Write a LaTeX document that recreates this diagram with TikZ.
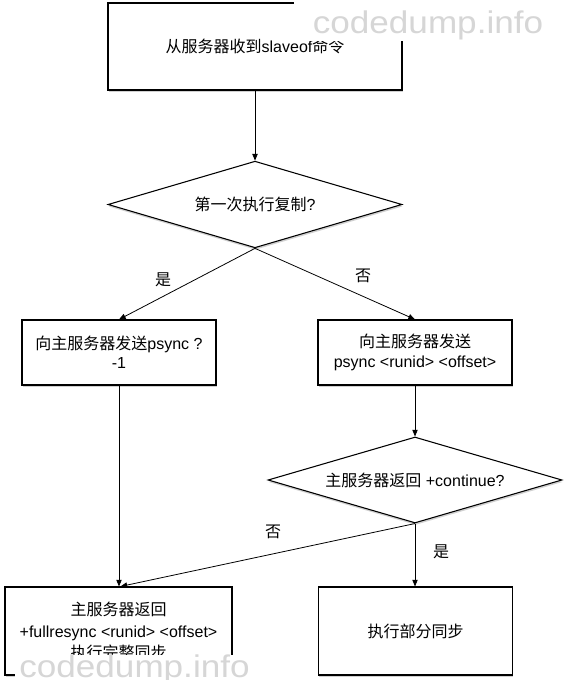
\documentclass[tikz,border=0pt]{standalone}
\usepackage{fontspec}
\usepackage{graphicx}
\setmainfont{Liberation Sans}
\newfontfamily\cjk{Noto Sans CJK SC}
\usetikzlibrary{shapes.geometric,arrows.meta,shadows}
\newcommand\zh[1]{{\cjk #1}}
\begin{document}
\begin{tikzpicture}[x=0.75pt,y=-0.75pt,
  every node/.style={font=\fontsize{12}{14.5}\selectfont},
  shade/.style={drop shadow={shadow xshift=0.4pt,shadow yshift=-1.5pt,opacity=0.3,fill=black!60}},
  boxnode/.style={draw,line width=0.8pt,fill=white,rectangle,inner sep=2pt,align=center,shade},
  decnode/.style={draw,line width=0.8pt,fill=white,diamond,aspect=4,inner sep=0pt,align=center,
                  minimum width=220.5pt,minimum height=65pt,shade},
  conn/.style={draw,line width=0.6pt,-{Triangle[length=5pt,width=4pt]}},
  lbl/.style={font=\cjk\fontsize{12}{14}\selectfont},
  wmark/.style={text=black!16,inner sep=0pt}]
\useasboundingbox (0,0) rectangle (566,680);
\fill[white] (0,0) rectangle (566,680);

\node[boxnode,minimum width=220.5pt,minimum height=65.25pt] (start) at (255,46.5)
  {\raisebox{-3.5pt}{\zh{从服务器收到}slaveof\zh{命令}}};
\node[decnode] (first) at (255,204.5) {\zh{第一次执行复制}?};
\node[boxnode,minimum width=145.5pt,minimum height=48.75pt] (full) at (119,352.5)
  {\zh{向主服务器发送}psync ?\\-1};
\node[boxnode,minimum width=145.5pt,minimum height=48.75pt] (part) at (415,352.5)
  {\zh{向主服务器发送}\\psync <runid> <offset>};
\node[decnode,minimum height=64.5pt] (cont) at (415,480) {\zh{主服务器返回} +continue?};
\node[boxnode,minimum width=170.25pt,minimum height=66pt,font=\fontsize{12}{16}\selectfont] (fullsync) at (118.5,631)
  {\zh{主服务器返回}\\+fullresync <runid> <offset>\\\zh{执行完整同步}};
\node[boxnode,minimum width=145.5pt,minimum height=66pt] (partsync) at (415.5,631)
  {\zh{执行部分同步}};

\draw[conn] (start.south) -- (first.north);
\draw[conn] (first.south) -- (full.north);
\draw[conn] (first.south) -- (part.north);
\draw[conn] (part.south) -- (cont.north);
\draw[conn] (full.south) -- (full.south |- fullsync.north);
\draw[conn] (cont.south) -- ([xshift=1.5pt]fullsync.north);
\draw[conn] (cont.south) -- (cont.south |- partsync.north);

\node[lbl] (yes1) at (163,280) {是};
\node[lbl] (no1) at (363,276) {否};
\node[lbl] (no2) at (273,532) {否};
\node[lbl] (yes2) at (441,552) {是};

\fill[white] (294,0) rectangle (552,41);
\node[wmark] (wm1) at (428,25) {\scalebox{1.12}[1]{\fontsize{23.5}{24}\selectfont codedump.info}};
\fill[white] (15,655) rectangle (252,680);
\node[wmark] (wm2) at (134.5,669) {\scalebox{1.12}[1]{\fontsize{23.5}{24}\selectfont codedump.info}};
\end{tikzpicture}
\end{document}
